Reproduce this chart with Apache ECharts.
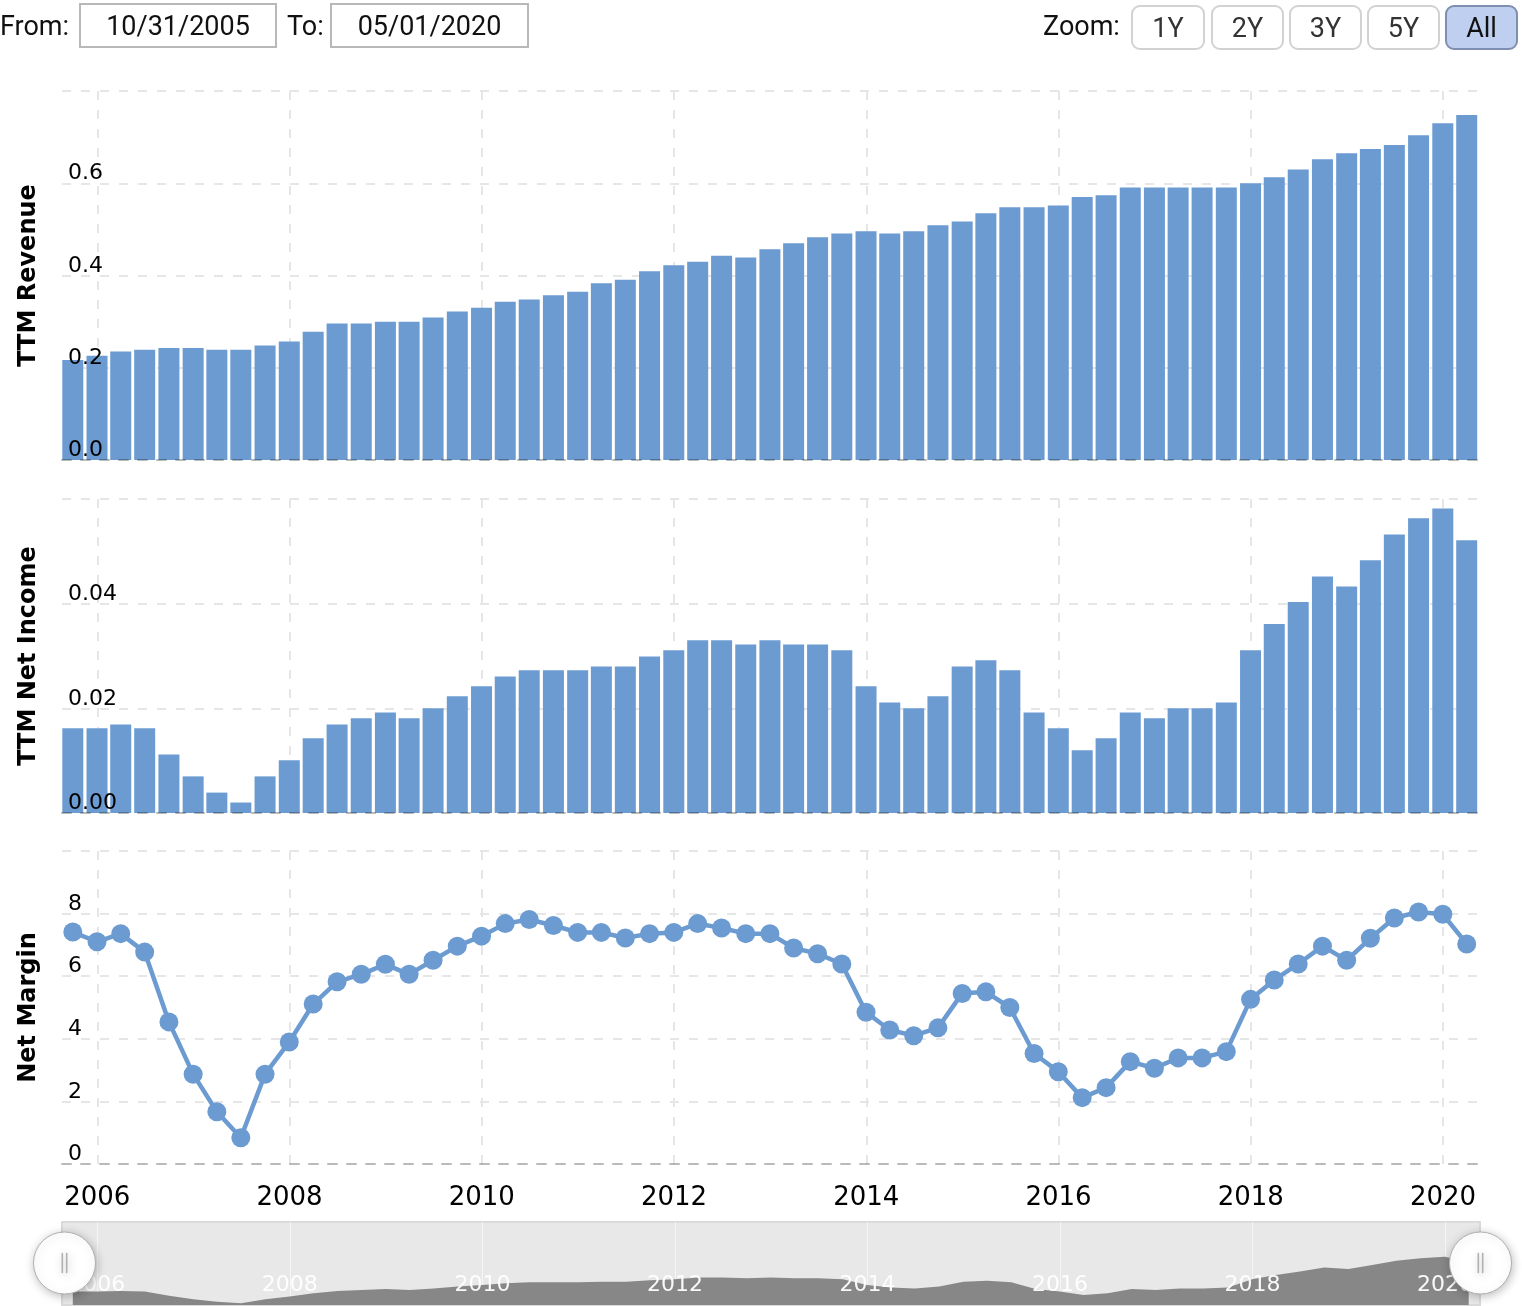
<!DOCTYPE html>
<html>
<head>
<meta charset="utf-8">
<script src="https://cdn.jsdelivr.net/npm/echarts@6/dist/echarts.min.js"></script>
<style>
  html, body { margin: 0; padding: 0; background: #fff; }
  #wrap { position: relative; width: 1522px; height: 1306px; overflow: hidden; }
  #chart { position: absolute; left: 0; top: 0; width: 1522px; height: 1306px; }
  .hd { position: absolute; font-family: Roboto, "Liberation Sans", sans-serif; font-size: 27px; color: #111; z-index: 5; box-sizing: border-box; }
  .lbl { top: 4px; height: 45px; line-height: 45px; }
  .box { top: 3px; height: 45px; line-height: 43px; border: 2px solid #b8b8b8; text-align: center; }
  .btn { top: 5px; height: 45px; line-height: 43px; width: 73px; border: 2px solid #d2d2d2; border-radius: 9px; text-align: center; color: #333; }
  .btn.on { background: #bfcff0; border-color: #7f8fb1; color: #111; }
</style>
</head>
<body>
<div id="wrap">
  <div id="chart"></div>
  <div class="hd lbl" style="left:0px">From:</div>
  <div class="hd box" style="left:79px;width:198px">10/31/2005</div>
  <div class="hd lbl" style="left:287px">To:</div>
  <div class="hd box" style="left:330px;width:199px">05/01/2020</div>
  <div class="hd lbl" style="left:1043px">Zoom:</div>
  <div class="hd btn" style="left:1131px;width:74px">1Y</div>
  <div class="hd btn" style="left:1211px">2Y</div>
  <div class="hd btn" style="left:1289px">3Y</div>
  <div class="hd btn" style="left:1367px">5Y</div>
  <div class="hd btn on" style="left:1445px">All</div>
</div>
<script>
// ---- data ----
const dates = [
  '2005-09-30','2005-12-31',
  '2006-03-31','2006-06-30','2006-09-30','2006-12-31',
  '2007-03-31','2007-06-30','2007-09-30','2007-12-31',
  '2008-03-31','2008-06-30','2008-09-30','2008-12-31',
  '2009-03-31','2009-06-30','2009-09-30','2009-12-31',
  '2010-03-31','2010-06-30','2010-09-30','2010-12-31',
  '2011-03-31','2011-06-30','2011-09-30','2011-12-31',
  '2012-03-31','2012-06-30','2012-09-30','2012-12-31',
  '2013-03-31','2013-06-30','2013-09-30','2013-12-31',
  '2014-03-31','2014-06-30','2014-09-30','2014-12-31',
  '2015-03-31','2015-06-30','2015-09-30','2015-12-31',
  '2016-03-31','2016-06-30','2016-09-30','2016-12-31',
  '2017-03-31','2017-06-30','2017-09-30','2017-12-31',
  '2018-03-31','2018-06-30','2018-09-30','2018-12-31',
  '2019-03-31','2019-06-30','2019-09-30','2019-12-31',
  '2020-03-31'
];
const ttmRevenue = [
  0.217,0.226,0.235,0.239,0.243,0.243,0.239,0.239,0.248,0.257,
  0.278,0.296,0.296,0.300,0.300,0.309,0.322,0.330,0.343,0.348,
  0.357,0.365,0.383,0.391,0.409,0.422,0.430,0.443,0.439,0.457,
  0.470,0.483,0.491,0.496,0.491,0.496,0.509,0.517,0.535,0.548,
  0.548,0.552,0.570,0.574,0.591,0.591,0.591,0.591,0.591,0.600,
  0.613,0.630,0.652,0.665,0.674,0.683,0.704,0.730,0.748
];
const ttmNetIncome = [
  0.0162,0.0162,0.0169,0.0162,0.0112,0.0070,0.0039,0.0020,0.0070,0.0101,
  0.0143,0.0169,0.0181,0.0192,0.0181,0.0200,0.0223,0.0242,0.0261,0.0273,
  0.0273,0.0273,0.0280,0.0280,0.0299,0.0311,0.0330,0.0330,0.0322,0.0330,
  0.0322,0.0322,0.0311,0.0242,0.0211,0.0200,0.0223,0.0280,0.0292,0.0273,
  0.0192,0.0162,0.0120,0.0143,0.0192,0.0181,0.0200,0.0200,0.0211,0.0311,
  0.0361,0.0403,0.0452,0.0433,0.0483,0.0532,0.0563,0.0582,0.0521
];
const netMargin = [
  7.41,7.10,7.36,6.77,4.54,2.87,1.67,0.84,2.87,3.90,
  5.11,5.82,6.06,6.38,6.06,6.51,6.96,7.28,7.68,7.81,
  7.62,7.40,7.40,7.22,7.36,7.40,7.68,7.54,7.36,7.36,
  6.90,6.72,6.39,4.85,4.28,4.10,4.35,5.45,5.50,5.00,
  3.53,2.95,2.12,2.44,3.27,3.06,3.39,3.39,3.59,5.26,
  5.88,6.39,6.96,6.51,7.21,7.86,8.05,7.98,7.03
];
const viewStart = '2005-08-20';
const viewEnd = '2020-05-13';
const axisNames = ['TTM Revenue', 'TTM Net Income', 'Net Margin'];
const yRanges = [[0, 0.8, 0.2, 1], [0, 0.06, 0.02, 2], [0, 10, 2, 0]];

// ---- helpers ----
function yearPos(s) {
  const p = s.split('-').map(Number);
  const t = Date.UTC(p[0], p[1] - 1, p[2]);
  const a = Date.UTC(p[0], 0, 1), b = Date.UTC(p[0] + 1, 0, 1);
  return p[0] + (t - a) / (b - a);
}
const X_MIN = yearPos(viewStart), X_MAX = yearPos(viewEnd);
const pair = arr => dates.map((d, i) => [yearPos(d), arr[i]]);

const BLUE = '#6b9bd1';
const FONT = 'DejaVu Sans';
const gridDefs = [
  { left: 62, right: 44, top: 91, height: 369 },
  { left: 62, right: 44, top: 499, height: 314 },
  { left: 62, right: 44, top: 851, height: 313 },
  { left: 62, right: 42, top: 1222, height: 83, show: true, backgroundColor: '#e8e8e8', borderColor: '#dadada', borderWidth: 2 }
];

const dashGrid = { show: true, lineStyle: { color: '#e6e6e6', width: 2, type: [9, 10] } };

const xAxes = [];
for (let g = 0; g < 3; g++) {
  xAxes.push({
    type: 'value', gridIndex: g, min: X_MIN, max: X_MAX, splitNumber: 7, position: 'bottom',
    axisLine: { show: false }, axisTick: { show: false },
    axisLabel: g === 2 ? {
      show: true, fontFamily: FONT, fontSize: 26, color: '#000', margin: 21,
      showMinLabel: false, showMaxLabel: false,
      formatter: v => String(Math.round(v))
    } : { show: false },
    splitLine: Object.assign({ showMinLine: false, showMaxLine: false }, dashGrid)
  });
}
for (let g = 0; g < 3; g++) {
  xAxes.push({
    type: 'value', gridIndex: g, min: X_MIN, max: X_MAX, position: 'bottom', offset: 0, z: 6,
    axisLine: { show: true, lineStyle: { color: 'rgba(0,0,0,0.27)', width: 2, type: [9, 10] } },
    axisTick: { show: false }, axisLabel: { show: false }, splitLine: { show: false }
  });
}
xAxes.push({
  type: 'value', gridIndex: 3, min: X_MIN, max: X_MAX, splitNumber: 7, position: 'bottom', z: 3,
  axisLine: { show: false }, axisTick: { show: false },
  axisLabel: {
    show: true, inside: true, fontFamily: FONT, fontSize: 22, color: 'rgba(255,255,255,0.95)', margin: 9,
    showMinLabel: false, showMaxLabel: false, formatter: v => String(Math.round(v))
  },
  splitLine: { show: true, showMinLine: false, showMaxLine: false, lineStyle: { color: 'rgba(255,255,255,0.55)', width: 1 } }
});

// y axes: grid lines + names (under the marks)
const yAxes = yRanges.map((r, g) => ({
  type: 'value', gridIndex: g, min: r[0], max: r[1], interval: r[2], position: 'left',
  name: axisNames[g], nameLocation: 'middle', nameGap: 21,
  nameTextStyle: { fontFamily: FONT, fontWeight: 'bold', fontSize: 24, color: '#000' },
  axisLine: { show: false }, axisTick: { show: false }, axisLabel: { show: false },
  splitLine: Object.assign({ showMinLine: false }, dashGrid)
}));
// y axes: tick labels (over the marks)
yRanges.forEach((r, g) => {
  yAxes.push({
    type: 'value', gridIndex: g, min: r[0], max: r[1], interval: r[2], position: 'left', offset: 0, z: 7,
    axisLine: { show: false }, axisTick: { show: false }, splitLine: { show: false },
    axisLabel: {
      inside: true, margin: 6, fontFamily: FONT, fontSize: 22, color: '#000',
      verticalAlign: 'bottom', lineHeight: 19, showMaxLabel: false,
      formatter: v => v.toFixed(r[3])
    }
  });
});
yAxes.push({ type: 'value', gridIndex: 3, min: 0, max: 0.1, show: false, splitLine: { show: false } });

const option = {
  animation: false,
  backgroundColor: '#fff',
  textStyle: { fontFamily: FONT },
  grid: gridDefs,
  xAxis: xAxes,
  yAxis: yAxes,
  series: [
    { type: 'bar', xAxisIndex: 0, yAxisIndex: 0, data: pair(ttmRevenue), barWidth: 21, itemStyle: { color: BLUE } },
    { type: 'bar', xAxisIndex: 1, yAxisIndex: 1, data: pair(ttmNetIncome), barWidth: 21, itemStyle: { color: BLUE } },
    { type: 'line', xAxisIndex: 2, yAxisIndex: 2, data: pair(netMargin), symbol: 'circle', symbolSize: 19,
      lineStyle: { color: BLUE, width: 4.5 }, itemStyle: { color: BLUE } },
    { type: 'line', xAxisIndex: 6, yAxisIndex: 6, data: pair(ttmNetIncome), symbol: 'none',
      lineStyle: { width: 0, color: '#878787' }, areaStyle: { color: '#878787', opacity: 1 } }
  ],
  dataZoom: [{
    type: 'slider', xAxisIndex: 6, filterMode: 'none', start: 0, end: 100,
    left: 62, right: 42, top: 1222, height: 82,
    backgroundColor: 'rgba(0,0,0,0)', fillerColor: 'rgba(0,0,0,0)', borderColor: 'rgba(0,0,0,0)',
    showDataShadow: false, showDetail: false, brushSelect: false, moveHandleSize: 0,
    handleIcon: 'path://M50 0 A50 50 0 1 1 50 100 A50 50 0 1 1 50 0 Z M46 34 L46 66 L47 66 L47 34 Z M53 34 L53 66 L54 66 L54 34 Z',
    handleSize: 62,
    handleStyle: { color: '#ffffff', borderColor: '#b0b0b0', borderWidth: 1, shadowBlur: 10, shadowColor: 'rgba(0,0,0,0.25)', shadowOffsetX: 1, shadowOffsetY: 2 },
    emphasis: { handleStyle: { color: '#ffffff', borderColor: '#b0b0b0' } },
    z: 8
  }]
};

const chart = echarts.init(document.getElementById('chart'), null, { renderer: 'canvas' });
chart.setOption(option);
</script>
</body>
</html>
